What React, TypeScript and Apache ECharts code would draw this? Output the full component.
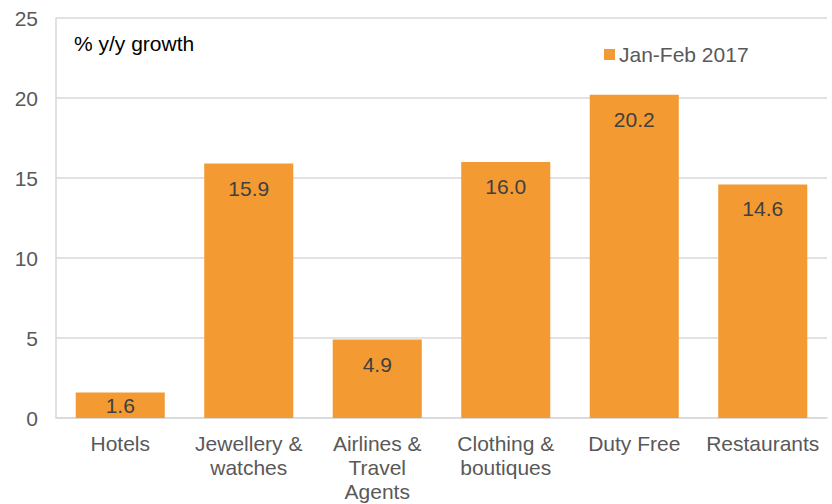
import React, { useEffect, useRef } from "react";
import * as echarts from "echarts";

const categories = ["Hotels", "Jewellery &\nwatches", "Airlines &\nTravel\nAgents", "Clothing &\nboutiques", "Duty Free", "Restaurants"];
const values = [1.6, 15.9, 4.9, 16.0, 20.2, 14.6];
const seriesName = "Jan-Feb 2017";
const yTitle = "% y/y growth";

export default function App() {
  const ref = useRef<HTMLDivElement>(null);
  useEffect(() => {
    const chart = echarts.init(ref.current!, null, { renderer: "svg" });
    const font = "Liberation Sans, Arial, sans-serif";
    chart.setOption({
      animation: false,
      textStyle: { fontFamily: font },
      grid: { left: 56, right: 5, top: 18, bottom: 86 },
      legend: {
        data: [seriesName],
        left: 599,
        top: 39,
        itemWidth: 11,
        itemHeight: 11,
        itemGap: 5,
        icon: "rect",
        textStyle: { fontSize: 21, color: "#595959", fontFamily: font, padding: [0, 0, 0, -1] },
      },
      graphic: [
        { type: "text", left: 74, top: 33, style: { text: yTitle, fontSize: 21, fill: "#000", fontFamily: font } },
      ],
      xAxis: {
        type: "category",
        data: categories,
        axisLine: { show: true, lineStyle: { color: "#d9d9d9", width: 1.5 } },
        axisTick: { show: false },
        axisLabel: { fontSize: 21, color: "#595959", lineHeight: 24, margin: 13, interval: 0, fontFamily: font },
      },
      yAxis: {
        type: "value",
        min: 0,
        max: 25,
        interval: 5,
        axisLine: { show: true, lineStyle: { color: "#d9d9d9", width: 1.5 } },
        splitLine: { lineStyle: { color: "#d9d9d9", width: 1.5 } },
        axisLabel: { fontSize: 21, color: "#595959", margin: 18, fontFamily: font },
      },
      series: [
        {
          name: seriesName,
          type: "bar",
          barCategoryGap: "30.7%",
          data: values.map((v, i) =>
            i === 0 ? { value: v, label: { position: "inside" } } : v
          ),
          itemStyle: { color: "#F39A33" },
          label: {
            show: true,
            position: "insideTop",
            distance: 14,
            fontSize: 21,
            color: "#404040",
            fontFamily: font,
            formatter: (p: any) => Number(p.value).toFixed(1),
          },
        },
      ],
    });
    return () => chart.dispose();
  }, []);
  return <div ref={ref} style={{ width: 832, height: 504, position: "absolute", left: 0, top: 0 }} />;
}
